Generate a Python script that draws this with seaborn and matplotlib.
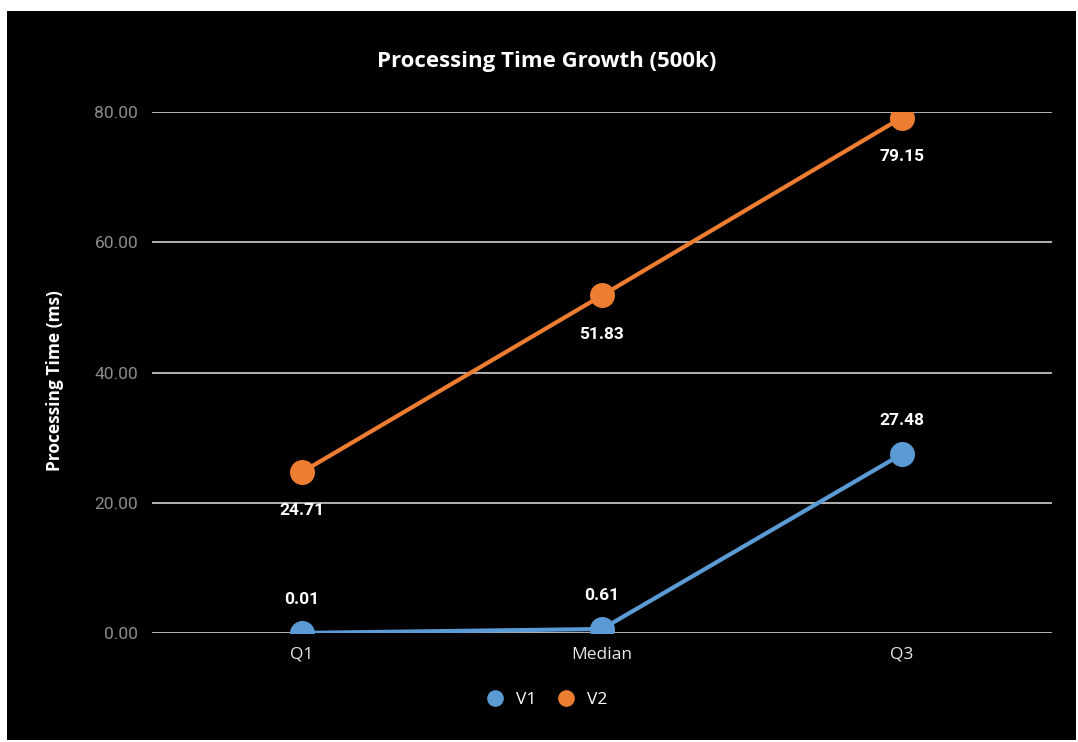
import matplotlib
matplotlib.use("Agg")
import matplotlib.pyplot as plt
from matplotlib.patches import Rectangle
from matplotlib.lines import Line2D
import seaborn as sns
import pandas as pd

categories = ["Q1", "Median", "Q3"]
v1_values = [0.01, 0.61, 27.48]
v2_values = [24.71, 51.83, 79.15]
series_names = ["V1", "V2"]
y_ticks = [0, 20, 40, 60, 80]

colors = {"V1": "#5B9BD5", "V2": "#ED7D31"}

sns.set_theme(style="dark")
plt.rcParams["font.family"] = ["Open Sans", "DejaVu Sans"]

rows = []
for name, vals in zip(series_names, [v1_values, v2_values]):
    for i, (c, v) in enumerate(zip(categories, vals)):
        rows.append({"pos": i, "cat": c, "value": v, "series": name})
df = pd.DataFrame(rows)

fig = plt.figure(figsize=(10.78, 7.42), dpi=100)
fig.patch.set_facecolor("white")
bg = Rectangle((7 / 1078, 2 / 742), 1069 / 1078, 729 / 742,
               transform=fig.transFigure, facecolor="black",
               edgecolor="none", zorder=-10)
fig.patches.append(bg)

ax = fig.add_axes([152 / 1078, 1 - 633 / 742, 900 / 1078, 521 / 742])
ax.set_facecolor("black")
ax.set_zorder(1)

sns.lineplot(data=df, x="pos", y="value", hue="series", palette=colors,
             marker="o", markersize=18, linewidth=3.0, markeredgewidth=0,
             ax=ax, legend=False, zorder=3)

ax.set_xlim(-0.5, 2.5)
ax.set_ylim(0, 80)
ax.set_xticks(range(len(categories)))
ax.set_xticklabels(categories, color="#E6E6E6", fontsize=12.5, family=["Open Sans", "DejaVu Sans"])
ax.set_yticks(y_ticks)
ax.set_yticklabels([f"{t:.2f}" for t in y_ticks], color="#8C8C8C", fontsize=12.5,
                   family=["Roboto", "DejaVu Sans"])
ax.tick_params(axis="both", length=0)
ax.tick_params(axis="x", pad=10)
ax.tick_params(axis="y", pad=10)
for s in ax.spines.values():
    s.set_visible(False)
ax.grid(True, axis="y", color="#BFBFBF", linewidth=1.3)
ax.grid(False, axis="x")
ax.set_axisbelow(True)
ax.set_xlabel("")
ax.set_ylabel("Processing Time (ms)", color="white", fontsize=12.5, fontweight="bold", labelpad=22)
ax.yaxis.label.set_y(0.484)

# data labels
for i, v in enumerate(v1_values):
    ax.annotate(f"{v:.2f}", (i, v), xytext=(0, 24), textcoords="offset points",
                ha="center", va="center", color="white", fontsize=12.5,
                fontweight="bold", family=["Roboto", "DejaVu Sans"], annotation_clip=False)
for i, v in enumerate(v2_values):
    ax.annotate(f"{v:.2f}", (i, v), xytext=(0, -28), textcoords="offset points",
                ha="center", va="center", color="white", fontsize=12.5,
                fontweight="bold", family=["Roboto", "DejaVu Sans"], annotation_clip=False)

fig.text(547 / 1078, 1 - 61 / 742, "Processing Time Growth (500k)", ha="center", va="center",
         color="white", fontsize=16, fontweight="bold")

handles = [Line2D([], [], linestyle="none", marker="o", markersize=12,
                  markerfacecolor=colors[n], markeredgewidth=0) for n in series_names]
fig.legend(handles, series_names, loc="center", bbox_to_anchor=(547 / 1078, 1 - 700 / 742),
           ncol=2, frameon=False, labelcolor="white", fontsize=12.5,
           handletextpad=0.7, columnspacing=1.2, handlelength=1.0)

fig.savefig("out.png", dpi=100, facecolor=fig.get_facecolor())
